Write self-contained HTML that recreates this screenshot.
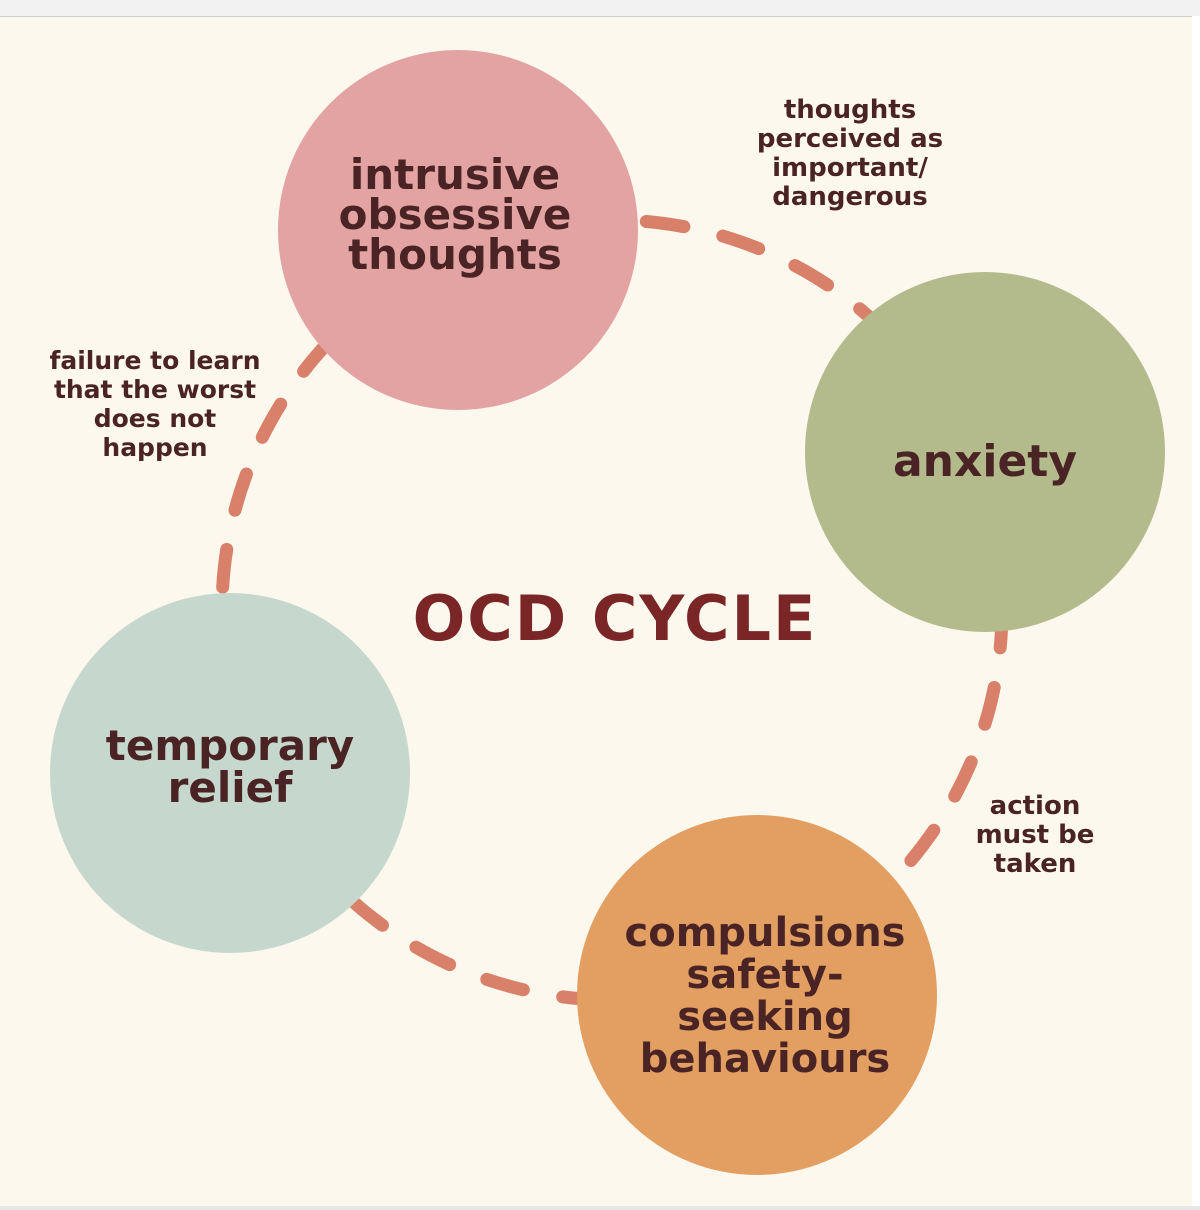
<!DOCTYPE html>
<html><head><meta charset="utf-8"><style>
html,body{margin:0;padding:0;}
body{width:1200px;height:1210px;position:relative;overflow:hidden;background:#fdf8ee;font-family:"DejaVu Sans","Liberation Sans",sans-serif;}
.top{position:absolute;left:0;top:0;width:1200px;height:16px;background:#f2f2f2;border-bottom:1px solid #d0d0d0;}
.right{position:absolute;right:0;top:16px;width:8px;height:1194px;background:#fff;}
.bot{position:absolute;left:0;top:1206px;width:1200px;height:4px;background:#e6e6e6;}
.t{position:absolute;color:#4a2424;text-align:center;line-height:1;}
</style></head><body>
<div class="top"></div><div class="right"></div><div class="bot"></div>
<svg width="1200" height="1210" style="position:absolute;left:0;top:0">
<circle cx="612" cy="610" r="390" fill="none" stroke="#d9806a" stroke-width="13" stroke-linecap="round" stroke-dasharray="38 40"/>
<circle cx="458" cy="230" r="180" fill="#e3a3a3"/>
<circle cx="985" cy="452" r="180" fill="#b3bb8d"/>
<circle cx="230" cy="773" r="180" fill="#c6d8cd"/>
<circle cx="757" cy="995" r="180" fill="#e39f62"/>
</svg>
<div class="t" style="left:300px;top:155px;width:310px;font-size:42px;line-height:40px;font-weight:bold">intrusive<br>obsessive<br>thoughts</div>
<div class="t" style="left:860px;top:440px;width:250px;font-size:44px;font-weight:bold">anxiety</div>
<div class="t" style="left:80px;top:725px;width:300px;font-size:42px;line-height:42px;font-weight:bold">temporary<br>relief</div>
<div class="t" style="left:600px;top:912px;width:330px;font-size:40px;line-height:42px;font-weight:bold">compulsions<br>safety-<br>seeking<br>behaviours</div>
<div class="t" style="left:390px;top:588px;width:450px;font-size:62px;color:#7a2626;letter-spacing:2px;font-weight:bold">OCD CYCLE</div>
<div class="t" style="left:740px;top:96px;width:220px;font-size:26px;line-height:29px;font-weight:bold">thoughts<br>perceived as<br>important/<br>dangerous</div>
<div class="t" style="left:25px;top:346px;width:260px;font-size:25px;line-height:29px;font-weight:bold">failure to learn<br>that the worst<br>does not<br>happen</div>
<div class="t" style="left:960px;top:792px;width:150px;font-size:26px;line-height:29px;font-weight:bold">action<br>must be<br>taken</div>
</body></html>
